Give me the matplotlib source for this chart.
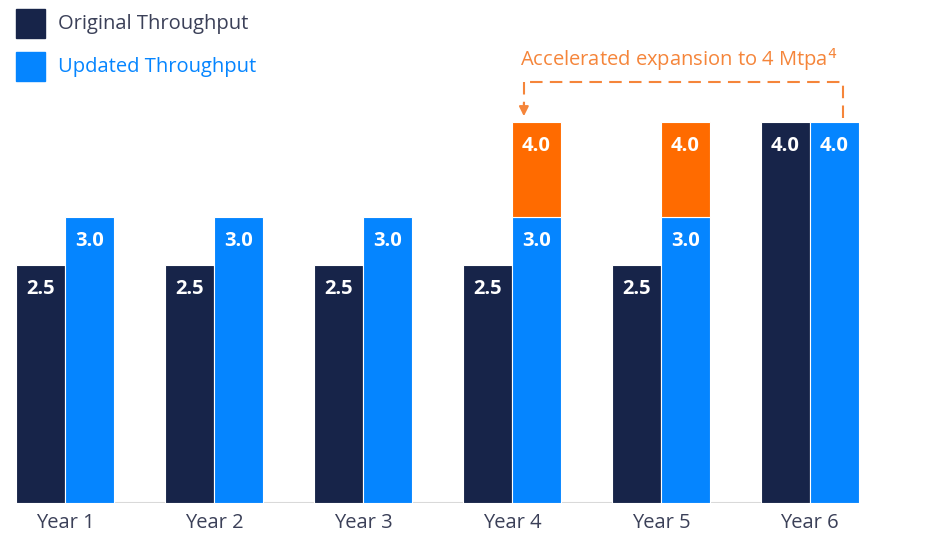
import numpy as np
import matplotlib.pyplot as plt
from matplotlib.patches import Rectangle

plt.rcParams['font.family'] = ['Open Sans', 'DejaVu Sans']

# Данные
years = ['Year 1', 'Year 2', 'Year 3', 'Year 4', 'Year 5', 'Year 6']
original = [2.5, 2.5, 2.5, 2.5, 2.5, 4.0]
updated = [3.0, 3.0, 3.0, 3.0, 3.0, 4.0]
accelerated = [np.nan, np.nan, np.nan, 4.0, 4.0, np.nan]

c_orig = '#172449'
c_upd = '#0585ff'
c_acc = '#ff6b00'
c_note = '#f5853a'
c_text = '#3b4058'

fig = plt.figure(figsize=(9.33, 5.35), dpi=100)
ax = fig.add_axes([16 / 933, 32 / 535, 843 / 933, 503 / 535])

x = np.arange(len(years))
w = 0.33

ax.bar(x - w / 2, original, w, color=c_orig, edgecolor='white', linewidth=0.8)
ax.bar(x + w / 2, updated, w, color=c_upd, edgecolor='white', linewidth=0.8)

# Оранжевая надстройка над обновлёнными значениями
acc = np.array(accelerated)
mask = ~np.isnan(acc)
ax.bar(x[mask] + w / 2, acc[mask] - np.array(updated)[mask], w,
       bottom=np.array(updated)[mask], color=c_acc, edgecolor='white', linewidth=0.8)

# Подписи значений
lab = dict(color='white', fontsize=14.5, fontweight='bold', ha='center', va='center')
for i in range(len(years)):
    ax.text(x[i] - w / 2, original[i] - 0.25, f'{original[i]:.1f}', **lab)
    ax.text(x[i] + w / 2, updated[i] - 0.25, f'{updated[i]:.1f}', **lab)
    if mask[i]:
        ax.text(x[i] + w / 2, acc[i] - 0.25, f'{acc[i]:.1f}', **lab)

ax.set_xlim(-w, len(years) - 1 + w)
ax.set_ylim(0, 5.28)
ax.axhline(0, color='#d9d9d9', linewidth=1.5, zorder=0)
for s in ax.spines.values():
    s.set_visible(False)
ax.set_yticks([])
ax.set_xticks(x)
ax.set_xticklabels(years, fontsize=14.5, color=c_text)
ax.tick_params(axis='x', length=0, pad=7)

# Пунктирная стрелка "ускоренного расширения"
xl, xr, yh = 3.08, 5.22, 4.42
ax.plot([xr, xr, xl], [4.04, yh, yh], color=c_note, lw=1.5, ls=(0, (6, 3.5)))
ax.plot([xl, xl], [yh, 4.17], color=c_note, lw=1.5, ls=(0, (6, 3.5)))
ax.annotate('', xy=(xl, 4.06), xytext=(xl, 4.2),
            arrowprops=dict(arrowstyle='-|>', color=c_note, lw=1.5,
                            mutation_scale=14, shrinkA=0, shrinkB=0))
ax.text(4.12, 4.66, 'Accelerated expansion to 4 Mtpa$^{4}$', color=c_note,
        fontsize=14.5, ha='center', va='center')

# Легенда
fig.patches.append(Rectangle((16 / 933, 1 - 38 / 535), 29 / 933, 29 / 535,
                             transform=fig.transFigure, color=c_orig))
fig.patches.append(Rectangle((16 / 933, 1 - 81 / 535), 29 / 933, 29 / 535,
                             transform=fig.transFigure, color=c_upd))
fig.text(58 / 933, 1 - 24 / 535, 'Original Throughput', color=c_text,
         fontsize=14.5, va='center')
fig.text(58 / 933, 1 - 67 / 535, 'Updated Throughput', color=c_upd,
         fontsize=14.5, va='center')

fig.savefig('out.png', dpi=100)
